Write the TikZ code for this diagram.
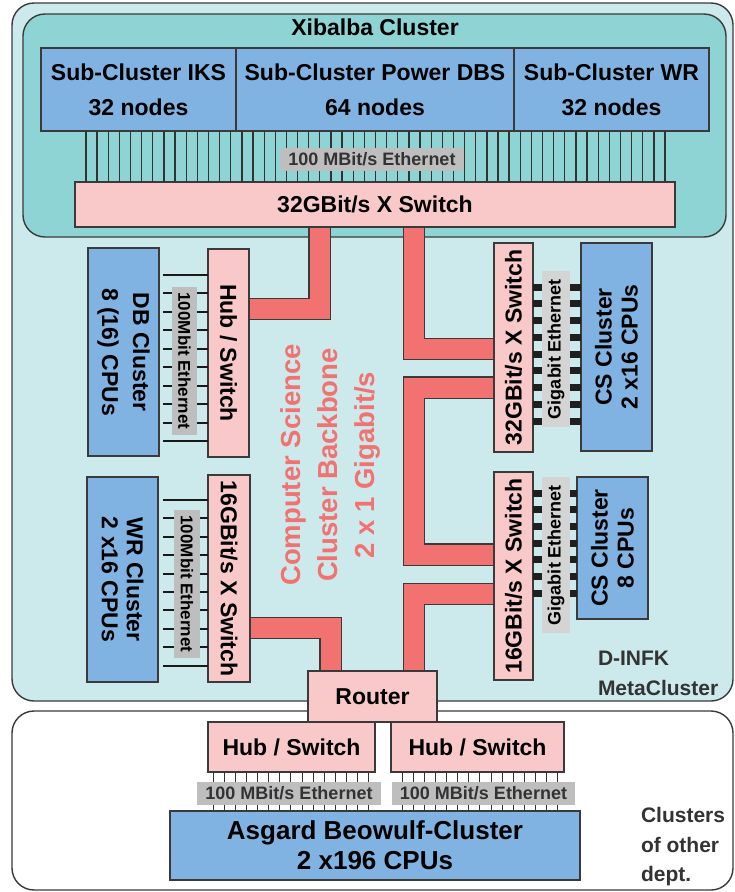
\documentclass[tikz,border=0pt]{standalone}
\usepackage{fontspec}
\setmainfont{Liberation Sans}
\usetikzlibrary{calc}

\definecolor{metabg}{HTML}{CCEAEB}
\definecolor{xibbg}{HTML}{8ED4D4}
\definecolor{unitblue}{HTML}{80B3E2}
\definecolor{swpink}{HTML}{F9C9C9}
\definecolor{pipered}{HTML}{F27171}
\definecolor{outl}{HTML}{3A3A3A}
\definecolor{lblgray}{HTML}{BEBEBE}
\definecolor{lblgraylt}{HTML}{D4D4D4}
\definecolor{txtgray}{HTML}{333333}

\pgfdeclarelayer{panels}
\pgfdeclarelayer{pipes}
\pgfsetlayers{panels,pipes,main}

\newcommand\fz[2]{\fontsize{#1}{#2}\selectfont\bfseries}

\begin{document}
\begin{tikzpicture}[x=1pt,y=-1pt,
  every node/.style={inner sep=0pt, outer sep=0pt},
  boxline/.style={draw=outl, line width=1.4pt},
  panel/.style={draw=outl, line width=1.4pt, rounded corners=22pt},
  unit/.style={boxline, fill=unitblue, rectangle},
  swbox/.style={boxline, fill=swpink, rectangle},
  txt/.style={font=\fz{23}{35}, align=center, text=black},
  glabel/.style={fill=lblgray, font=\fz{18}{20}, text=txtgray},
  vlabel/.style={fill=lblgray, font=\fz{17}{20}, text=black},
  gglabel/.style={fill=lblgraylt, font=\fz{18}{20}, text=black},
  pipe/.style={draw=outl, line width=1.3pt, double=pipered, double distance=20pt, line join=miter},
  eth/.style={draw=txtgray, line width=1.3pt},
  eththin/.style={draw=txtgray, line width=1pt},
  fasteth/.style={draw=black!90, line width=2pt},
  gbar/.style={draw=black!88, line width=7pt}
]
\useasboundingbox (0,0) rectangle (735,892);

% background panels
\begin{pgfonlayer}{panels}
  \draw[panel, fill=metabg] (12,3) rectangle (733,701);
  \draw[panel, fill=xibbg] (23,14) rectangle (726,237);
  \draw[panel, fill=white] (12,711) rectangle (733,890);
\end{pgfonlayer}

% titles
\node[font=\fz{23}{28}] (xibt) at (375,27) {Xibalba Cluster};
\node[font=\fz{21}{30}, text=txtgray, align=left, anchor=west] (meta) at (598,673) {D-INFK\\MetaCluster};
\node[font=\fz{21}{29.5}, text=txtgray, align=left, anchor=west] (other) at (641,847) {Clusters\\of other\\dept.};

% Xibalba sub-clusters and switch
\node[unit, txt, minimum width=195pt, minimum height=83pt] (iks) at (138.5,89.5) {Sub-Cluster IKS\\32 nodes};
\node[unit, txt, minimum width=278pt, minimum height=83pt] (dbs) at (375,89.5) {Sub-Cluster Power DBS\\64 nodes};
\node[unit, txt, minimum width=195pt, minimum height=83pt] (wrs) at (611.5,89.5) {Sub-Cluster WR\\32 nodes};
\node[swbox, txt, minimum width=600pt, minimum height=45pt] (xsw) at (375,204.5) {32GBit/s X Switch};

% left clusters
\node[unit, minimum width=71pt, minimum height=208pt] (dbc) at (123.5,352) {};
\node[txt, rotate=-90, font=\fz{23}{31}] (dbct) at (dbc) {DB Cluster\\8 (16) CPUs};
\node[swbox, minimum width=41pt, minimum height=208pt] (hubDB) at (228.5,353) {};
\node[txt, rotate=-90] (hubDBt) at (hubDB) {Hub / Switch};

\node[unit, minimum width=71pt, minimum height=205pt] (wrc) at (122.5,579.5) {};
\node[txt, rotate=-90, font=\fz{23}{25}] (wrct) at (wrc) {WR Cluster\\2 x16 CPUs};
\node[swbox, minimum width=42pt, minimum height=207pt] (sw16L) at (229,578.5) {};
\node[txt, rotate=-90] (sw16Lt) at (sw16L) {16GBit/s X Switch};

% right clusters
\node[swbox, minimum width=39pt, minimum height=209pt] (sw32) at (513.5,347.5) {};
\node[txt, rotate=90] (sw32t) at (sw32) {32GBit/s X Switch};
\node[unit, minimum width=71pt, minimum height=208pt] (cs1) at (616.5,347) {};
\node[txt, rotate=90, font=\fz{23}{26}] (cs1t) at (cs1) {CS Cluster\\2 x16 CPUs};

\node[swbox, minimum width=39pt, minimum height=208pt] (sw16R) at (513.5,576) {};
\node[txt, rotate=90] (sw16Rt) at (sw16R) {16GBit/s X Switch};
\node[unit, minimum width=71pt, minimum height=142pt] (cs2) at (612.5,548) {};
\node[txt, rotate=90, font=\fz{23}{26}] (cs2t) at (cs2) {CS Cluster\\8 CPUs};

% backbone caption
\node[txt, rotate=90, font=\fz{27.5}{37}, text=pipered] (bbt) at (330,465) {Computer Science\\Cluster Backbone\\2 x 1 Gigabit/s};

% router and other departments
\node[swbox, txt, minimum width=129pt, minimum height=51pt] (router) at (372.5,696.5) {Router};
\node[swbox, txt, minimum width=167pt, minimum height=50pt] (hubA) at (291.5,747) {Hub / Switch};
\node[swbox, txt, minimum width=173pt, minimum height=50pt] (hubB) at (477.5,747) {Hub / Switch};
\node[unit, txt, font=\fz{26}{30}, minimum width=410pt, minimum height=69pt] (asg) at (375,845.5) {Asgard Beowulf-Cluster\\2 x196 CPUs};

% backbone pipes
\coordinate (p1) at (319.5,309);
\coordinate (p2) at (414,349);
\coordinate (p3) at (414,387.5);
\coordinate (p4) at (414,554.5);
\coordinate (p5) at (414,594);
\coordinate (p6) at (330.5,628);
\begin{pgfonlayer}{pipes}
  \draw[pipe] (xsw.south -| p1) |- (hubDB.east |- p1);
  \draw[pipe] (xsw.south -| p2) |- (sw32.west |- p2);
  \draw[pipe] (sw32.west |- p3) -| (p4) -- (sw16R.west |- p4);
  \draw[pipe] (sw16R.west |- p5) -| (router.north -| p5);
  \draw[pipe] (sw16L.east |- p6) -| (router.north -| p6);
\end{pgfonlayer}

% Xibalba ethernet bundle
\foreach \k in {0,...,52}
  \draw[eth] (xsw.north west) ++(11+11.135*\k,0) coordinate (e) -- (e |- iks.south);

% 100Mbit links on the left
\foreach \k in {0,...,9}
  \draw[fasteth] (hubDB.north west) ++(0,26+18.45*\k) -- ++(-45,0);
\foreach \k in {0,...,9}
  \draw[fasteth] (sw16L.north west) ++(0,25+18.4*\k) -- ++(-45,0);

% gigabit links on the right
\foreach \k in {0,...,8}
  \draw[gbar] (sw32.north east) ++(0,44+16.75*\k) coordinate (g) -- (g -| cs1.west);
\foreach \k in {0,...,6}
  \draw[gbar] (sw16R.north east) ++(0,21+16.7*\k) coordinate (g) -- (g -| cs2.west);

% Asgard ethernet bundles
\foreach \k in {0,...,14}
  \draw[eththin] (hubA.south west) ++(5+11.14*\k,0) coordinate (e) -- (e |- asg.north);
\foreach \k in {0,...,14}
  \draw[eththin] (hubB.south west) ++(11+11.14*\k,0) coordinate (e) -- (e |- asg.north);

% link labels
\node[glabel, minimum width=184pt, minimum height=23pt] (lx) at (372,159.5) {100 MBit/s Ethernet};
\node[glabel, minimum width=184pt, minimum height=23pt] (la) at (289,793.5) {100 MBit/s Ethernet};
\node[glabel, minimum width=183pt, minimum height=23pt] (lb) at (483.5,793.5) {100 MBit/s Ethernet};
\node[vlabel, rotate=-90, minimum width=148pt, minimum height=25pt] (ldb) at (184.5,361) {100Mbit Ethernet};
\node[vlabel, rotate=-90, minimum width=148pt, minimum height=26pt] (lwr) at (187,584) {100Mbit Ethernet};
\node[gglabel, rotate=90, minimum width=156pt, minimum height=28pt] (lg1) at (556,349) {Gigabit Ethernet};
\node[gglabel, rotate=90, minimum width=156pt, minimum height=28pt] (lg2) at (556,555) {Gigabit Ethernet};
\end{tikzpicture}
\end{document}
